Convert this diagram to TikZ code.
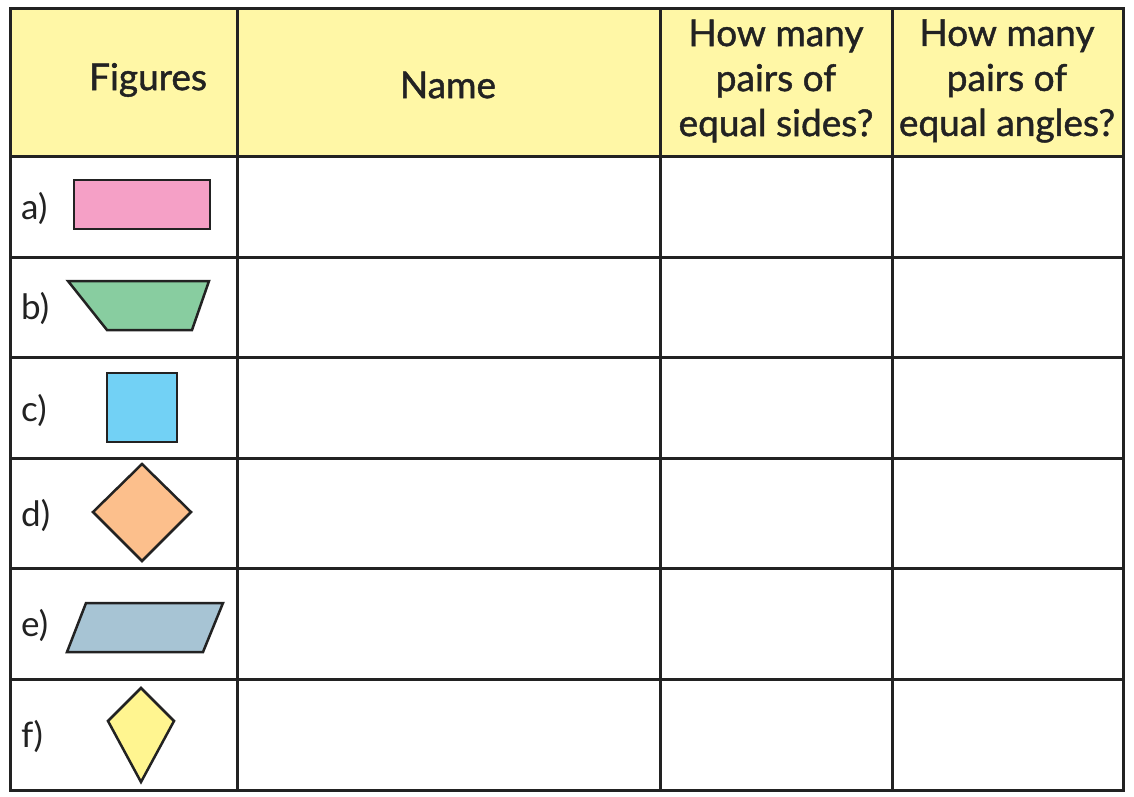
\documentclass[tikz,border=0pt]{standalone}
\usepackage{fontspec}
\setmainfont{Lato}
\newfontfamily\hdrfont[FakeBold=1.2]{Lato}
\definecolor{hdr}{HTML}{FFF7A6}
\definecolor{lnc}{HTML}{222222}
\definecolor{pinkf}{HTML}{F5A0C6}
\definecolor{greenf}{HTML}{88CDA0}
\definecolor{bluef}{HTML}{72D1F5}
\definecolor{orangef}{HTML}{FCBF8C}
\definecolor{greyf}{HTML}{A7C4D4}
\definecolor{yellowf}{HTML}{FFF590}
\tikzset{
  grid/.style={draw=lnc, line width=3pt},
  shapeline/.style={draw=lnc, line width=2.5pt, line join=miter},
  hdrtext/.style={font=\hdrfont\fontsize{37}{45}\selectfont, align=center, text=lnc, inner sep=0pt},
  rowlab/.style={font=\fontsize{35}{40}\selectfont, text=lnc, anchor=base west, inner sep=0pt}
}
\begin{document}
\begin{tikzpicture}[x=1pt,y=-1pt]
\useasboundingbox (0,0) rectangle (1134,796);
\fill[white] (0,0) rectangle (1134,796);
% header background
\fill[hdr] (10,8) rectangle (1123,156);
% grid
\draw[grid] (10,8) rectangle (1123,790);
\foreach \xx in {237,660,892} \draw[grid] (\xx,8) -- (\xx,790);
\foreach \yy in {156,257,357,458,568,679} \draw[grid] (10,\yy) -- (1123,\yy);
% header texts
\node[hdrtext] (hfig) at (148,80) {Figures};
\node[hdrtext] (hname) at (448,85) {Name};
\node[hdrtext] (hsides) at (776,81) {How many\\pairs of\\equal sides?};
\node[hdrtext] (hangles) at (1007,81) {How many\\pairs of\\equal angles?};
% row labels
\node[rowlab] (la) at (21,219) {a)};
\node[rowlab] (lb) at (21,319) {b)};
\node[rowlab] (lc) at (21,421) {c)};
\node[rowlab] (ld) at (21,526) {d)};
\node[rowlab] (le) at (21,636) {e)};
\node[rowlab] (lf) at (21,747) {f)};
% figures
\draw[shapeline, fill=pinkf] (74,180) rectangle (210,229);
\draw[shapeline, fill=greenf] (68,281) -- (209,281) -- (192,330) -- (107,330) -- cycle;
\draw[shapeline, fill=bluef] (107,373) rectangle (177,442);
\draw[shapeline, fill=orangef] (142,464) -- (191,512) -- (142,561) -- (93,512) -- cycle;
\draw[shapeline, fill=greyf] (86,603) -- (223,603) -- (203,652) -- (67,652) -- cycle;
\draw[shapeline, fill=yellowf] (141,688) -- (174,721) -- (141,782) -- (108,721) -- cycle;
\end{tikzpicture}
\end{document}
